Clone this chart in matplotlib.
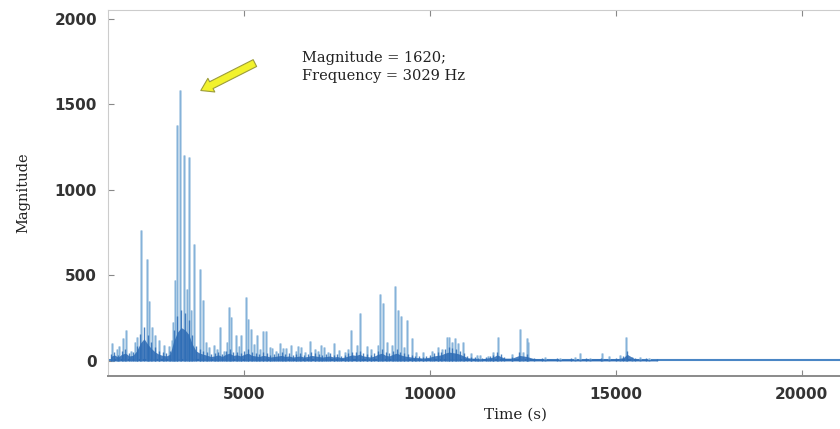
import matplotlib.pyplot as plt
import numpy as np

# Light (tall) spikes: frequency position and magnitude
spike_x = [1444, 1740, 1821, 2225, 2387, 2441, 2522, 2710, 2845,
           3141, 3195, 3276, 3384, 3518, 3653, 3815, 3895,
           4353, 4596, 4650, 4784, 4919, 5054, 5108, 5189, 5350, 5512, 5593,
           5754, 5970, 6131, 6266, 6536, 6778, 7074, 7155, 7425,
           7883, 8018, 8125, 8583, 8637, 8718, 8960, 9041, 9122, 9203, 9364, 9499,
           10200, 10442, 10496, 10657, 10738, 10873, 11250, 11331, 11546, 11816,
           12409, 12597, 12624, 14025, 14618, 15264, 15426, 15641,
           1560, 1620, 1950, 2060, 2120, 2600, 2960, 3040, 3090, 3450, 3560, 3960,
           4050, 4180, 4260, 4450, 4520, 4860, 5250, 5420, 5680, 5850, 6050,
           6380, 6450, 6620, 6900, 6980, 7250, 7560, 7700, 7800, 8300, 8420,
           8850, 9300, 9620, 9800, 10050, 10330, 10580, 11100, 11700, 12200,
           12500, 13100, 13500, 13900, 14300, 14800, 15100, 15900]
spike_y = [105, 134, 181, 766, 597, 350, 199, 123, 94,
           474, 1380, 1585, 1205, 1193, 684, 540, 357,
           199, 316, 257, 152, 152, 374, 246, 187, 152, 175, 175,
           76, 105, 76, 94, 82, 117, 94, 82, 105,
           181, 94, 281, 94, 392, 339, 94, 439, 298, 263, 240, 134,
           82, 140, 140, 134, 105, 111, 35, 35, 30, 140,
           187, 134, 110, 47, 47, 140, 25, 25,
           70, 90, 60, 110, 140, 150, 90, 120, 230, 420, 300, 110,
           80, 95, 70, 60, 110, 90, 100, 70, 80, 60, 75,
           60, 85, 55, 70, 60, 55, 65, 50, 70, 90, 70,
           110, 80, 55, 50, 60, 70, 110, 45, 50, 40,
           55, 25, 20, 25, 20, 30, 35, 20]

# Darker, denser base ("grass") heights
base_x = [1400, 1500, 1600, 1700, 1800, 1900, 2000, 2100, 2200, 2300, 2400, 2500,
          2600, 2700, 2800, 2900, 3000, 3100, 3200, 3300, 3400, 3500, 3600, 3700,
          3800, 3900, 4000, 4100, 4200, 4300, 4400, 4500, 4600, 4700, 4800, 4900,
          5000, 5100, 5200, 5300, 5400, 5500, 5600, 5700, 5800, 5900, 6000, 6100,
          6200, 6300, 6400, 6500, 6600, 6700, 6800, 6900, 7000, 7100, 7200, 7300,
          7400, 7500, 7600, 7700, 7800, 7900, 8000, 8100, 8200, 8300, 8400, 8500,
          8600, 8700, 8800, 8900, 9000, 9100, 9200, 9300, 9400, 9500, 9600, 9700,
          9800, 9900, 10000, 10100, 10200, 10300, 10400, 10500, 10600, 10700, 10800,
          10900, 11000, 11100, 11200, 11300, 11400, 11500, 11600, 11700, 11800, 11900,
          12000, 12200, 12400, 12600, 12800, 13000, 13400, 13800, 14200, 14600,
          15000, 15200, 15300, 15500, 15800, 16100]
base_y = [40, 55, 35, 60, 70, 45, 50, 90, 160, 200, 150, 110,
          80, 60, 50, 45, 60, 180, 260, 300, 280, 240, 150, 90,
          70, 60, 50, 40, 45, 55, 40, 60, 70, 50, 55, 45,
          60, 70, 50, 45, 40, 50, 45, 35, 40, 45, 50, 40,
          45, 35, 40, 45, 35, 40, 50, 45, 40, 35, 40, 45,
          35, 40, 30, 35, 45, 55, 50, 60, 45, 40, 35, 45,
          60, 70, 50, 45, 60, 70, 55, 45, 40, 35, 30, 30,
          25, 30, 35, 45, 50, 55, 70, 80, 75, 70, 60,
          45, 30, 25, 25, 20, 20, 25, 30, 35, 55, 40,
          25, 25, 50, 40, 20, 18, 15, 15, 18, 20,
          18, 30, 60, 20, 15, 10]

x_ticks = [5000, 10000, 15000, 20000]
y_ticks = [0, 500, 1000, 1500, 2000]

fig = plt.figure(figsize=(8.4, 4.29), dpi=100)
ax = fig.add_axes([108 / 840, 53 / 429, (924 - 108) / 840, (376 - 10) / 429])

xmin, xmax = 1330, 23290
ax.set_xlim(xmin, xmax)
ax.set_ylim(-88, 2052)

# baseline
ax.plot([xmin, xmax], [5, 5], color='#4a86c5', lw=1.5, zorder=2)

# light tall spikes
ax.vlines(spike_x, 0, spike_y, color='#a9c9e4', lw=1.8, zorder=3)
ax.vlines(spike_x, 0, spike_y, color='#7eaed8', lw=0.6, zorder=3)

# dark base grass
ax.fill_between(base_x, 0, np.array(base_y) * 0.65, color='#2c6ab4', lw=0, zorder=4, alpha=0.85)
ax.vlines(base_x, 0, base_y, color='#2d6db6', lw=1.0, zorder=4, alpha=0.85)

# spines
for s in ['top', 'left']:
    ax.spines[s].set_color('#cccccc')
ax.spines['bottom'].set_color('#8a8a8a')
ax.spines['bottom'].set_linewidth(1.4)
ax.spines['right'].set_visible(False)

ax.set_xticks(x_ticks)
ax.set_yticks(y_ticks)
ax.tick_params(axis='both', direction='in', length=4, color='#888888', top=True,
               labelsize=11, labelcolor='#333333', pad=8)
for lbl in ax.get_xticklabels() + ax.get_yticklabels():
    lbl.set_fontweight('bold')
    lbl.set_family('DejaVu Sans')

ax.set_xlabel('Time (s)', family='DejaVu Serif', fontsize=11, color='#222222', labelpad=4)
ax.set_ylabel('Magnitude', family='DejaVu Serif', fontsize=10.5, color='#222222', labelpad=17)

ax.annotate('', xy=(3761, 1574), xytext=(5350, 1749),
            arrowprops=dict(arrowstyle='simple,head_length=0.85,head_width=1.1,tail_width=0.55',
                            fc='#f2f22c', ec='#9c9c3a', lw=0.8))
ax.text(6562, 1717, 'Magnitude = 1620;\nFrequency = 3029 Hz', family='DejaVu Serif',
        fontsize=10.5, color='#222222', va='center', ha='left', linespacing=1.35)

fig.savefig('out.png', dpi=100)
